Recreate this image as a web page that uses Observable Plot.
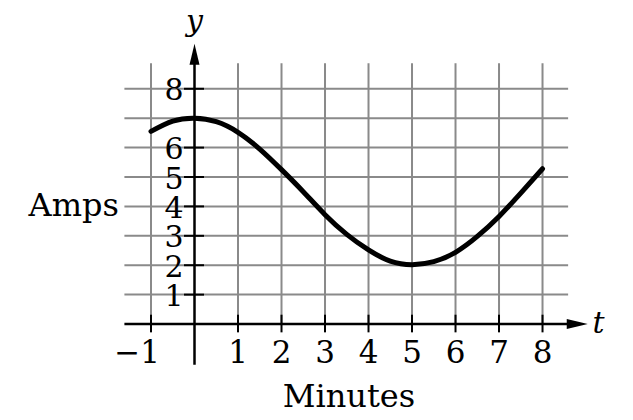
<!DOCTYPE html>
<html>
<head>
<meta charset="utf-8">
<script src="https://cdn.jsdelivr.net/npm/d3@7"></script>
<script src="https://cdn.jsdelivr.net/npm/@observablehq/plot@0.6"></script>
<style>
  html, body { margin: 0; padding: 0; background: white; }
  #chart { width: 633px; height: 420px; }
</style>
</head>
<body>
<div id="chart"></div>
<script>
// Data
const minutes = [-1, -0.5, 0, 0.5, 1, 1.5, 2, 2.5, 3, 3.5, 4, 4.5, 5, 5.5, 6, 6.5, 7, 7.5, 8];
const amps    = [6.55, 6.9, 7.0, 6.88, 6.52, 5.95, 5.25, 4.5, 3.72, 3.05, 2.52, 2.14, 2.02, 2.12, 2.44, 2.98, 3.66, 4.45, 5.28];
const xTicks = [-1, 1, 2, 3, 4, 5, 6, 7, 8];
const yTicks = [1, 2, 3, 4, 5, 6, 7, 8];
const yTickLabels = [1, 2, 3, 4, 5, 6, 8]; // the 7 is hidden by the curve in the reference
const xGrid = [-1, 1, 2, 3, 4, 5, 6, 7, 8];
const xLabel = "Minutes";
const yLabel = "Amps";
const xAxisName = "t";
const yAxisName = "y";

const data = minutes.map((m, i) => ({minutes: m, amps: amps[i]}));

// Extents of the drawn grid/axes (in data units)
const gridLeft = -1.6, gridRight = 8.6, gridTop = 8.85;
const xArrowTip = 9.04, yArrowTip = 9.53, yAxisBottom = -1.4;

const arrowHead = {
  draw(ctx) {
    ctx.moveTo(0, 0);
    ctx.lineTo(-21, -5);
    ctx.lineTo(-21, 5);
    ctx.closePath();
  }
};

const font = "DejaVu Serif";
const grey = "#8a8a8a";

const chart = Plot.plot({
  width: 633,
  height: 420,
  marginLeft: 124.4,
  marginRight: 45.3,
  marginTop: 42.7,
  marginBottom: 55.3,
  x: {domain: [-1.6, 9.05], axis: null},
  y: {domain: [-1.4, 9.55], axis: null},
  style: {fontFamily: font, background: "white", color: "black"},
  marks: [
    // grid
    Plot.ruleY(yTicks, {x1: gridLeft, x2: gridRight, stroke: grey, strokeWidth: 2}),
    Plot.ruleX(xGrid, {y1: 0, y2: gridTop, stroke: grey, strokeWidth: 2}),
    // axes
    Plot.ruleY([0], {x1: gridLeft, x2: xArrowTip - 0.3, stroke: "black", strokeWidth: 2.5}),
    Plot.ruleX([0], {y1: yAxisBottom, y2: yArrowTip - 0.5, stroke: "black", strokeWidth: 2.5}),
    Plot.dot([0], {x: xArrowTip, y: 0, symbol: arrowHead, fill: "black", stroke: "none", r: 5}),
    Plot.dot([0], {x: 0, y: yArrowTip, symbol: arrowHead, fill: "black", stroke: "none", r: 5, rotate: -90}),
    // ticks
    Plot.ruleX(xTicks, {y1: -0.3, y2: 0.3, stroke: "black", strokeWidth: 2}),
    Plot.ruleY(yTicks, {x1: -0.23, x2: 0.23, stroke: "black", strokeWidth: 2}),
    // tick labels
    Plot.text(xTicks.filter(d => d > 0), {x: d => d, y: 0, text: d => String(d), dy: 29, fontSize: 31, fontFamily: font, textAnchor: "middle"}),
    Plot.text(xTicks.filter(d => d < 0), {x: d => d, y: 0, text: d => "\u2212" + Math.abs(d), dy: 29, dx: 9, fontSize: 31, fontFamily: font, textAnchor: "end"}),
    Plot.text(yTickLabels, {x: 0, y: d => d, text: d => String(d), dx: -11, dy: 2, fontSize: 30, fontFamily: font, textAnchor: "end"}),
    // curve
    Plot.line(data, {x: "minutes", y: "amps", curve: "natural", stroke: "black", strokeWidth: 5, strokeLinecap: "round"}),
    // axis titles
    Plot.text([yLabel], {x: -1.6, y: 3.69, text: d => d, dx: -6, fontSize: 32, fontFamily: font, textAnchor: "end", lineAnchor: "bottom"}),
    Plot.text([xLabel], {x: 3.55, y: -2.83, text: d => d, fontSize: 32, fontFamily: font, textAnchor: "middle", lineAnchor: "bottom"}),
    Plot.text([yAxisName], {x: 0, y: 10.3, text: d => d, fontSize: 30, fontFamily: font, fontStyle: "italic", textAnchor: "middle"}),
    Plot.text([xAxisName], {x: 9.29, y: 0.03, text: d => d, fontSize: 30, fontFamily: font, fontStyle: "italic", textAnchor: "middle"})
  ]
});
document.getElementById("chart").appendChild(chart);
</script>
</body>
</html>
